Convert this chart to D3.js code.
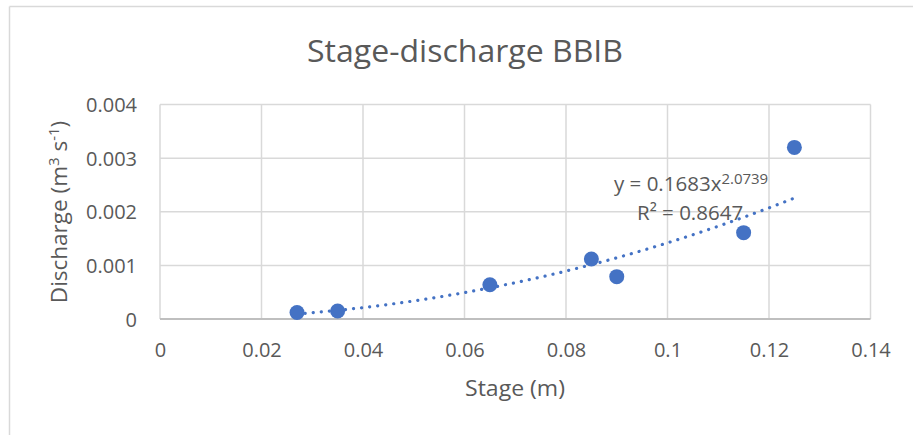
<!DOCTYPE html>
<html>
<head>
<meta charset="utf-8">
<script src="https://cdn.jsdelivr.net/npm/d3@7"></script>
<style>
  html, body { margin: 0; padding: 0; background: #fff; }
  svg { display: block; }
  text { font-family: "Open Sans", "Noto Sans", sans-serif; fill: #595959; }
</style>
</head>
<body>
<script>
// ---- data ----
const stage = [0.027, 0.035, 0.065, 0.085, 0.09, 0.115, 0.125];
const discharge = [0.00012, 0.00015, 0.00064, 0.00112, 0.00079, 0.00161, 0.0032];
const xTicks = [0, 0.02, 0.04, 0.06, 0.08, 0.1, 0.12, 0.14];
const xTickLabels = ["0", "0.02", "0.04", "0.06", "0.08", "0.1", "0.12", "0.14"];
const yTicks = [0, 0.001, 0.002, 0.003, 0.004];
const yTickLabels = ["0", "0.001", "0.002", "0.003", "0.004"];
const trendCoef = 0.1683;
const trendExp = 2.0739;
const rSquared = "0.8647";
const title = "Stage-discharge BBIB";

const W = 913, H = 435;
const svg = d3.select("body").append("svg").attr("width", W).attr("height", H);

// outer chart border (only top/left visible in the crop)
svg.append("line").attr("x1", 9.5).attr("x2", W).attr("y1", 6.5).attr("y2", 6.5)
  .attr("stroke", "#d9d9d9").attr("stroke-width", 1.5);
svg.append("line").attr("x1", 9.5).attr("x2", 9.5).attr("y1", 6.5).attr("y2", H)
  .attr("stroke", "#d9d9d9").attr("stroke-width", 1.5);

const x = d3.scaleLinear().domain([0, 0.14]).range([160, 870.5]);
const y = d3.scaleLinear().domain([0, 0.004]).range([319, 104.5]);

// gridlines
const grid = svg.append("g");
grid.selectAll("line.h").data(yTicks.slice(1)).join("line")
  .attr("x1", x(0)).attr("x2", x(0.14))
  .attr("y1", d => y(d)).attr("y2", d => y(d))
  .attr("stroke", "#d9d9d9").attr("stroke-width", 1.5);
grid.selectAll("line.v").data(xTicks).join("line")
  .attr("x1", d => x(d)).attr("x2", d => x(d))
  .attr("y1", y(0)).attr("y2", y(0.004))
  .attr("stroke", "#d9d9d9").attr("stroke-width", 1.5);

// bottom axis line
svg.append("line").attr("x1", x(0)).attr("x2", x(0.14)).attr("y1", y(0)).attr("y2", y(0))
  .attr("stroke", "#bfbfbf").attr("stroke-width", 2);

// x tick labels via d3 axis
const xAxis = d3.axisBottom(x).tickValues(xTicks)
  .tickFormat((d, i) => xTickLabels[i]).tickSize(0).tickPadding(0);
const gx = svg.append("g").attr("transform", `translate(0,${y(0) + 38})`).call(xAxis);
gx.select(".domain").remove();
gx.selectAll("text").attr("dy", 0).attr("y", 0)
  .style("font-size", "20px").style("fill", "#595959")
  .style("font-family", '"Open Sans", sans-serif');

// y tick labels via d3 axis
const yAxis = d3.axisLeft(y).tickValues(yTicks)
  .tickFormat((d, i) => yTickLabels[i]).tickSize(0).tickPadding(0);
const gy = svg.append("g").attr("transform", `translate(137,0)`).call(yAxis);
gy.select(".domain").remove();
gy.selectAll("text").attr("dy", "0.36em")
  .style("font-size", "20px").style("fill", "#595959")
  .style("font-family", '"Open Sans", sans-serif');

// trendline (power fit from the displayed equation)
const xMin = d3.min(stage), xMax = d3.max(stage);
const trendPts = d3.range(0, 101).map(i => {
  const sx = xMin + (xMax - xMin) * i / 100;
  return [sx, trendCoef * Math.pow(sx, trendExp)];
});
svg.append("path").datum(trendPts)
  .attr("d", d3.line().x(d => x(d[0])).y(d => y(d[1])))
  .attr("fill", "none").attr("stroke", "#4472c4")
  .attr("stroke-width", 3.2).attr("stroke-linecap", "round")
  .attr("stroke-dasharray", "0.1 8");

// points
svg.append("g").selectAll("circle").data(stage).join("circle")
  .attr("cx", d => x(d)).attr("cy", (d, i) => y(discharge[i]))
  .attr("r", 7.5).attr("fill", "#4472c4");

// equation labels
const eq = svg.append("text").attr("x", 614).attr("y", 191).style("font-size", "20.5px");
eq.append("tspan").text("y = " + trendCoef + "x");
eq.append("tspan").attr("dy", -7).style("font-size", "15px").text(String(trendExp));
svg.append("text").attr("x", 637).attr("y", 220).style("font-size", "20.5px")
  .text("R² = " + rSquared);

// title
svg.append("text").attr("x", 465).attr("y", 62).attr("text-anchor", "middle")
  .style("font-size", "31px").attr("textLength", 316).attr("lengthAdjust", "spacingAndGlyphs")
  .text(title);

// x axis title
svg.append("text").attr("x", 515).attr("y", 396).attr("text-anchor", "middle")
  .style("font-size", "21px").attr("textLength", 100).attr("lengthAdjust", "spacingAndGlyphs")
  .text("Stage (m)");

// y axis title
const yt = svg.append("text").attr("transform", "translate(67,212) rotate(-90)")
  .attr("text-anchor", "middle").style("font-size", "22.5px");
yt.append("tspan").text("Discharge (m");
yt.append("tspan").attr("dy", -8).style("font-size", "15px").text("3");
yt.append("tspan").attr("dy", 8).text(" s");
yt.append("tspan").attr("dy", -8).style("font-size", "15px").text("-1");
yt.append("tspan").attr("dy", 8).text(")");
</script>
</body>
</html>
